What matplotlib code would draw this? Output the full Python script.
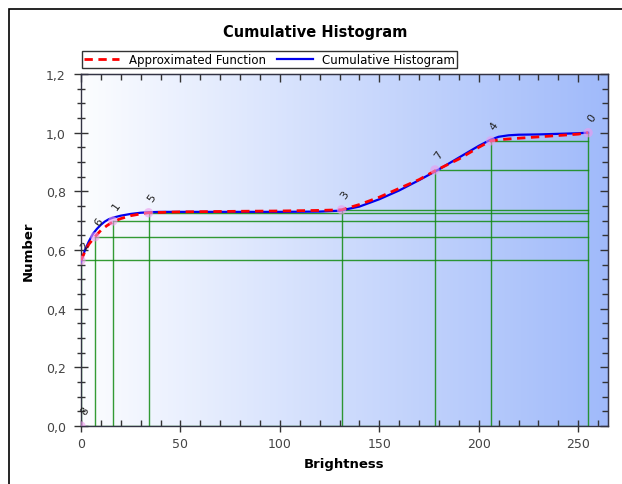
import matplotlib
matplotlib.use("Agg")
import matplotlib.pyplot as plt
import numpy as np
from matplotlib.ticker import MultipleLocator, FuncFormatter, NullFormatter
from matplotlib.patches import Rectangle

# Cumulative histogram (blue)
hist_x = [0, 2, 4, 6, 8, 10, 12, 14, 16, 20, 25, 30, 35, 40, 60, 80, 100, 120, 130,
          140, 150, 160, 170, 180, 190, 200, 206, 210, 215, 220, 230, 240, 250, 255]
hist_y = [0.56, 0.60, 0.63, 0.655, 0.672, 0.686, 0.697, 0.705, 0.710, 0.717, 0.723, 0.727,
          0.729, 0.730, 0.730, 0.730, 0.730, 0.731, 0.734, 0.748, 0.773, 0.803, 0.838,
          0.875, 0.915, 0.955, 0.976, 0.986, 0.991, 0.993, 0.994, 0.996, 0.998, 1.0]

# Approximated function (red dashed)
approx_x = [0, 2, 4, 7, 10, 13, 16, 20, 25, 30, 34, 50, 80, 100, 120, 131, 140, 150,
            160, 170, 178, 190, 200, 206, 212, 220, 235, 250, 255]
approx_y = [0.565, 0.595, 0.62, 0.645, 0.667, 0.683, 0.696, 0.707, 0.717, 0.723, 0.727,
            0.730, 0.732, 0.733, 0.735, 0.737, 0.755, 0.780, 0.810, 0.840, 0.870, 0.910,
            0.950, 0.972, 0.977, 0.981, 0.988, 0.995, 1.0]

# Control points
ctrl_x = [255, 16, 0, 131, 206, 34, 7, 178, 0]
ctrl_y = [1.0, 0.699, 0.565, 0.737, 0.972, 0.727, 0.645, 0.873, 0.0]
ctrl_labels = ["0", "1", "2", "3", "4", "5", "6", "7", "8"]

fig = plt.figure(figsize=(6.22, 4.85), dpi=100)
fig.patch.set_facecolor("white")

# outer frame
fig.add_artist(Rectangle((9 / 622, -0.5), 2.0, 1 - 10 / 485 + 0.5, transform=fig.transFigure,
                         fill=False, edgecolor="black", linewidth=1.2))

ax = fig.add_axes([81 / 622, 1 - 427 / 485, (608 - 81) / 622, (427 - 75) / 485])
ax.set_xlim(0, 265)
ax.set_ylim(0, 1.2)

# gradient background
grad = np.linspace(0, 1, 256).reshape(1, -1)
c0 = np.array([252, 253, 255]) / 255
c1 = np.array([160, 186, 250]) / 255
img = c0[None, None, :] * (1 - grad[..., None]) + c1[None, None, :] * grad[..., None]
ax.imshow(img, extent=[0, 265, 0, 1.2], aspect="auto", zorder=0, interpolation="bilinear")

# guide lines
xmax_guide = 255
for cx, cy in zip(ctrl_x, ctrl_y):
    ax.plot([cx, cx], [0, cy], color="#118a11", lw=1.0, alpha=0.85, zorder=1)
    ax.plot([cx, xmax_guide], [cy, cy], color="#118a11", lw=1.0, alpha=0.85, zorder=1)

ax.plot(approx_x, approx_y, color="#ff0000", lw=2.0, ls=(0, (3, 2)), zorder=4,
        label="Approximated Function")
ax.plot(hist_x, hist_y, color="#0000ee", lw=1.6, zorder=3, label="Cumulative Histogram")

ax.scatter(ctrl_x, ctrl_y, s=45, color="#ee99ee", alpha=0.6, zorder=5, edgecolors="none")
for cx, cy, lab in zip(ctrl_x, ctrl_y, ctrl_labels):
    ax.annotate(lab, (cx, cy), xytext=(2.5, 11), textcoords="offset points",
                ha="center", va="center", rotation=55, fontsize=8, color="#222222",
                zorder=6, annotation_clip=False)

ax.xaxis.set_major_locator(MultipleLocator(50))
ax.xaxis.set_minor_locator(MultipleLocator(10))
ax.yaxis.set_major_locator(MultipleLocator(0.2))
ax.yaxis.set_minor_locator(MultipleLocator(0.05))
ax.yaxis.set_major_formatter(FuncFormatter(lambda v, p: f"{v:.1f}".replace(".", ",")))

tc = "#333333"
ax.tick_params(axis="x", which="major", direction="inout", length=9, width=1, colors=tc,
               labelsize=9, labelcolor="#444444")
ax.tick_params(axis="x", which="minor", direction="in", length=4, width=1, colors=tc)
ax.tick_params(axis="y", which="major", direction="inout", length=10, width=1, colors=tc,
               labelsize=9, labelcolor="#444444", pad=6)
ax.tick_params(axis="y", which="minor", direction="inout", length=6, width=1, colors=tc)

# top and right inward ticks
for loc in ("top",):
    sec = ax.secondary_xaxis(loc)
    sec.xaxis.set_major_locator(MultipleLocator(50))
    sec.xaxis.set_minor_locator(MultipleLocator(10))
    sec.tick_params(which="major", direction="in", length=6, width=1, colors=tc, labeltop=False)
    sec.tick_params(which="minor", direction="in", length=4, width=1, colors=tc)
    sec.xaxis.set_major_formatter(NullFormatter())
    sec.spines["top"].set_color("#333344")
secr = ax.secondary_yaxis("right")
secr.yaxis.set_major_locator(MultipleLocator(0.2))
secr.yaxis.set_minor_locator(MultipleLocator(0.05))
secr.tick_params(which="major", direction="in", length=6, width=1, colors=tc, labelright=False)
secr.tick_params(which="minor", direction="in", length=4, width=1, colors=tc)
secr.yaxis.set_major_formatter(NullFormatter())
secr.spines["right"].set_color("#222244")

for s in ax.spines.values():
    s.set_color("#333344")
    s.set_linewidth(1)

ax.set_xlabel("Brightness", fontsize=9.5, fontweight="bold", labelpad=5)
ax.set_ylabel("Number", fontsize=9.5, fontweight="bold", labelpad=8)
fig.text(315 / 622, 1 - 32 / 485, "Cumulative Histogram", ha="center", va="center",
         fontsize=10.5, fontweight="bold")

leg = fig.legend(loc="upper left", bbox_to_anchor=(82 / 622, 1 - 52 / 485), ncol=2,
                 fontsize=8.5, frameon=True, fancybox=False, edgecolor="black",
                 borderpad=0.15, handlelength=3, columnspacing=1.0, handletextpad=0.8,
                 borderaxespad=0)
leg.get_frame().set_linewidth(1)

fig.savefig("out.png", dpi=100)
